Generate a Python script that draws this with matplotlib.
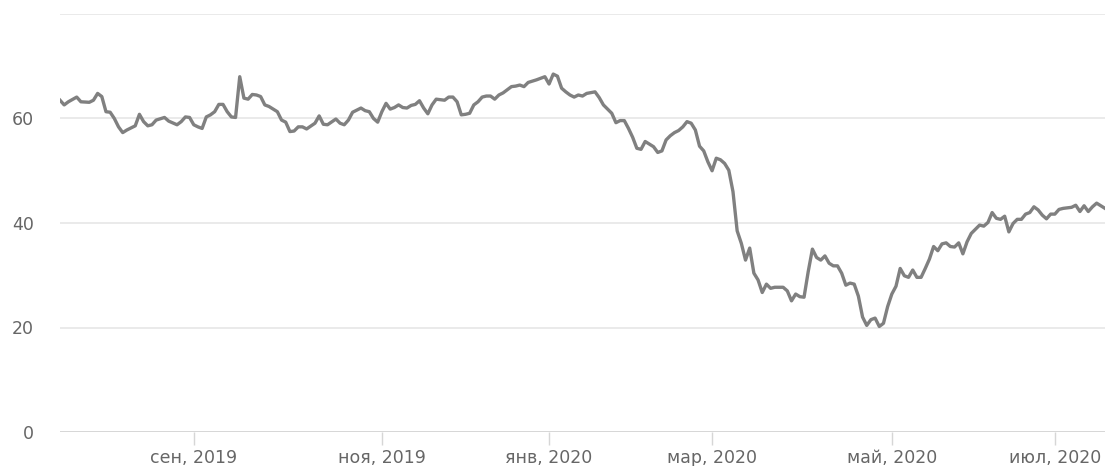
import matplotlib
matplotlib.use("Agg")
import matplotlib.pyplot as plt
import numpy as np

# trading-day index (ordinal axis) and value
day_idx = [0, 1, 2, 4, 5, 7, 8, 9, 10, 11, 12, 13, 14, 15, 16, 17, 18, 19, 20, 21,
           22, 23, 25, 26, 28, 29, 30, 31, 32, 33, 34, 35, 36, 37, 38, 39, 40, 41, 42, 43,
           44, 45, 46, 47, 48, 49, 50, 52, 53, 54, 55, 56, 57, 58, 59, 61, 62, 63, 64, 66,
           67, 68, 69, 70, 72, 73, 74, 75, 76, 77, 78, 79, 80, 81, 82, 83, 84, 85, 86, 87,
           88, 89, 90, 92, 93, 94, 95, 96, 97, 98, 99, 100, 101, 102, 103, 104, 105, 106, 108, 109,
           110, 111, 112, 114, 115, 116, 117, 118, 119, 120, 121, 122, 123, 124, 125, 126, 128, 129, 130, 132,
           133, 134, 135, 136, 137, 138, 139, 140, 141, 142, 143, 144, 145, 146, 147, 148, 149, 150, 151, 152,
           153, 154, 155, 156, 157, 158, 159, 160, 161, 162, 163, 164, 165, 166, 167, 168, 169, 170, 171, 173,
           174, 175, 176, 177, 178, 179, 180, 181, 182, 183, 184, 185, 186, 187, 188, 189, 190, 191, 192, 193,
           194, 195, 196, 197, 198, 199, 200, 201, 202, 203, 204, 205, 206, 207, 208, 209, 210, 211, 212, 213,
           214, 215, 216, 217, 218, 220, 221, 222, 223, 224, 225, 226, 227, 228, 229, 230, 231, 232, 233, 234,
           235, 236, 237, 238, 239, 240, 241, 242, 243, 244, 245, 246, 247, 248, 249, 250]
values = [63.5, 62.6, 63.2, 64.1, 63.2, 63.1, 63.5, 64.8, 64.2, 61.3, 61.2, 60.0, 58.4, 57.3, 57.8, 58.2, 58.6, 60.8, 59.4, 58.6,
          58.8, 59.7, 60.2, 59.5, 58.8, 59.4, 60.3, 60.2, 58.8, 58.4, 58.1, 60.3, 60.7, 61.3, 62.7, 62.7, 61.3, 60.3, 60.2, 68.0,
          63.9, 63.7, 64.6, 64.5, 64.2, 62.6, 62.3, 61.3, 59.7, 59.3, 57.5, 57.6, 58.4, 58.4, 58.0, 59.1, 60.5, 58.9, 58.8, 59.9,
          59.1, 58.8, 59.7, 61.2, 62.0, 61.5, 61.3, 60.0, 59.3, 61.3, 62.9, 61.8, 62.1, 62.6, 62.1, 62.0, 62.5, 62.7, 63.4, 62.0,
          60.9, 62.6, 63.7, 63.5, 64.1, 64.1, 63.2, 60.7, 60.8, 61.0, 62.6, 63.2, 64.1, 64.3, 64.3, 63.7, 64.5, 64.9, 66.1, 66.2,
          66.4, 66.1, 66.9, 67.4, 67.7, 68.0, 66.6, 68.5, 68.1, 65.8, 65.1, 64.5, 64.1, 64.5, 64.3, 64.8, 65.1, 64.0, 62.6, 61.0,
          59.2, 59.6, 59.6, 58.1, 56.4, 54.3, 54.1, 55.6, 55.1, 54.6, 53.5, 53.8, 55.9, 56.7, 57.3, 57.7, 58.4, 59.4, 59.1, 57.8,
          54.7, 53.8, 51.7, 50.0, 52.4, 52.1, 51.4, 50.1, 46.0, 38.5, 36.1, 32.9, 35.2, 30.4, 29.1, 26.7, 28.3, 27.5, 27.7, 27.7,
          27.0, 25.1, 26.4, 25.9, 25.8, 30.7, 35.0, 33.4, 32.9, 33.7, 32.3, 31.8, 31.8, 30.4, 28.1, 28.5, 28.3, 26.0, 22.0, 20.4,
          21.5, 21.8, 20.2, 20.8, 24.0, 26.4, 27.9, 31.3, 29.9, 29.6, 31.0, 29.6, 29.6, 31.3, 33.1, 35.5, 34.7, 36.0, 36.2, 35.5,
          35.4, 36.2, 34.1, 36.4, 38.0, 39.6, 39.4, 40.1, 42.0, 40.9, 40.7, 41.3, 38.3, 39.9, 40.7, 40.7, 41.7, 42.0, 43.1, 42.5,
          41.5, 40.8, 41.7, 41.7, 42.6, 42.8, 42.9, 43.0, 43.4, 42.2, 43.3, 42.2, 43.1, 43.8, 43.3, 42.8]

tick_idx = [32, 77, 117, 156, 199, 238]
tick_labels = ["сен, 2019", "ноя, 2019", "янв, 2020", "мар, 2020", "май, 2020", "июл, 2020"]
y_ticks = [0, 20, 40, 60]
y_grid = [0, 20, 40, 60, 80]

plt.rcParams['font.family'] = ['DejaVu Sans']

fig = plt.figure(figsize=(11.07, 4.66), dpi=100)
ax = fig.add_axes([60 / 1107, (466 - 432) / 466, (1105 - 60) / 1107, (432 - 14) / 466])

for g in y_grid[1:]:
    ax.axhline(g, color="#e6e6e6", lw=1.2, zorder=1)
ax.axhline(0, color="#d6d6d6", lw=1.4, zorder=1)

ax.plot(day_idx, values, color="#808080", lw=2.4, solid_joinstyle="round", zorder=3)

ax.set_xlim(0, 250)
ax.set_ylim(0, 80)

for s in ax.spines.values():
    s.set_visible(False)

ax.set_yticks(y_ticks)
ax.set_yticklabels([str(v) for v in y_ticks])
ax.tick_params(axis="y", length=0, pad=19, labelsize=12.5, labelcolor="#666666")

ax.set_xticks(tick_idx)
ax.set_xticklabels(tick_labels)
ax.tick_params(axis="x", length=9.5, width=1.0, color="#d6d6d6", pad=2.5,
               labelsize=12.5, labelcolor="#666666")

fig.savefig("out.png", dpi=100, facecolor="white")
